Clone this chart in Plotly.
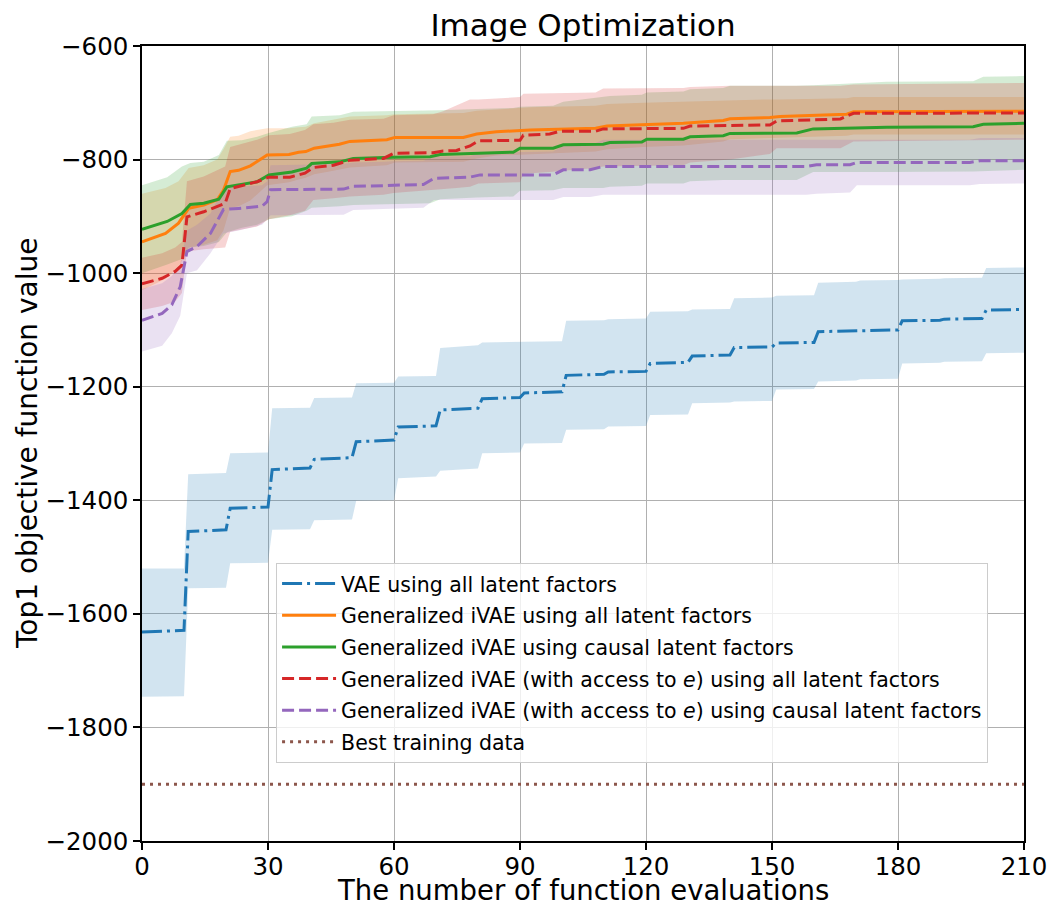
import plotly.graph_objects as go

# ---------------- data ----------------
# VAE using all latent factors (step-wise best-so-far curve)
vae_x = [0, 10, 11, 20, 21, 30, 31, 40, 41, 50, 51, 60, 61, 70, 71, 80, 81, 90, 91, 100, 101,
         110, 111, 120, 121, 130, 131, 140, 141, 150, 151, 160, 161, 170, 171, 180, 181, 190, 191, 200, 201, 210]
vae_mean = [-1632, -1629, -1455, -1452, -1414, -1412, -1346, -1343, -1328, -1325, -1297, -1294, -1271, -1269,
            -1241, -1238, -1221, -1219, -1211, -1209, -1180, -1178, -1174, -1173, -1159, -1157, -1146, -1144,
            -1131, -1130, -1123, -1122, -1103, -1102, -1101, -1100, -1084, -1083, -1081, -1080, -1065, -1064]
vae_hi = [-1520, -1520, -1354, -1352, -1317, -1316, -1238, -1237, -1220, -1219, -1194, -1193, -1182, -1181,
          -1132, -1127, -1122, -1122, -1121, -1120, -1084, -1083, -1081, -1080, -1068, -1067, -1064, -1063,
          -1044, -1043, -1040, -1039, -1017, -1015, -1013, -1012, -1011, -1010, -1009, -1008, -991, -990]
vae_lo = [-1746, -1745, -1555, -1554, -1511, -1510, -1452, -1451, -1435, -1434, -1401, -1400, -1361, -1358,
          -1348, -1344, -1317, -1316, -1300, -1299, -1276, -1275, -1270, -1269, -1250, -1249, -1229, -1228,
          -1226, -1225, -1205, -1204, -1191, -1189, -1187, -1186, -1159, -1158, -1156, -1155, -1141, -1140]

# Generalized iVAE using all latent factors
giv_all_x = [0, 5.6, 8.7, 11.1, 14.7, 17.9, 19.4, 21, 23, 25.8, 29.8, 35, 37.3, 39, 41, 44, 47, 49.5, 58.3,
             60.2, 76.5, 79.7, 84.4, 92.4, 108, 110.7, 119.4, 128.9, 138.4, 140, 149.5, 151.9, 167.8, 169.4, 210]
giv_all_mean = [-945, -930, -912, -886, -880, -871, -854, -821, -819, -811, -792, -791, -787, -786, -780, -777,
                -773, -768, -765, -761, -761, -755, -751, -748, -745, -741, -738, -736, -731, -728, -726, -724,
                -720, -716, -715]
giv_all_hi = [-860, -850, -838, -815, -810, -800, -782, -760, -758, -750, -745, -745, -743, -742, -736, -732,
              -728, -724, -722, -720, -718, -714, -712, -708, -705, -702, -700, -698, -696, -695, -694, -694,
              -692, -690, -690]
giv_all_lo = [-1030, -1010, -990, -955, -950, -942, -925, -885, -882, -872, -845, -840, -835, -832, -826, -822,
              -818, -814, -810, -805, -804, -798, -793, -790, -786, -782, -778, -775, -768, -764, -762, -761,
              -758, -756, -756]

# Generalized iVAE using causal latent factors
giv_cau_x = [0, 6, 9.5, 11.5, 14.7, 18.3, 20.2, 23.8, 27.4, 30.2, 35.7, 39.2, 40.4, 47.1, 50.3, 59.8, 68.6,
             71, 79.7, 88.4, 90, 97.9, 100.3, 109.8, 111.4, 119, 120.2, 128.9, 130.5, 138.4, 140, 155.9, 159.8,
             177.3, 197.9, 200.3, 210]
giv_cau_mean = [-923, -909, -895, -879, -877, -870, -848, -843, -839, -827, -822, -815, -807, -804, -798, -796,
                -795, -791, -789, -787, -780, -780, -774, -773, -770, -769, -764, -764, -760, -758, -754, -753,
                -746, -743, -742, -738, -736]
giv_cau_hi = [-845, -831, -812, -806, -804, -792, -767, -766, -760, -753, -742, -738, -724, -722, -716, -715,
              -714, -713, -711, -709, -707, -705, -698, -690, -688, -686, -682, -680, -676, -674, -670, -670,
              -669, -663, -662, -654, -653]
giv_cau_lo = [-1000, -985, -975, -955, -952, -945, -928, -920, -915, -905, -900, -890, -885, -882, -880, -878,
              -877, -870, -867, -865, -855, -854, -850, -850, -848, -846, -842, -842, -838, -836, -836, -836,
              -822, -822, -821, -820, -818]

# Generalized iVAE (with access to e) using all latent factors
gie_all_x = [0, 4.8, 7.9, 9.5, 10.7, 14.7, 19.8, 21, 27.4, 30.2, 35.2, 38.8, 40.8, 45.6, 49.5, 57.5, 59.9,
             69.3, 71.7, 74.9, 78.1, 80.1, 90, 90.8, 97.1, 99.5, 108, 109.8, 128.9, 130.5, 140, 149.5, 151.1,
             166.3, 169.4, 210]
gie_all_mean = [-1019, -1009, -997, -986, -901, -892, -877, -851, -839, -831, -831, -824, -814, -810, -801, -798,
                -789, -788, -785, -784, -776, -767, -766, -757, -755, -750, -750, -746, -745, -741, -740, -739,
                -732, -728.5, -718.5, -718]
gie_all_hi = [-973, -965, -955, -945, -838, -830, -812, -778, -765, -757, -755, -748, -738, -735, -730, -728,
              -722, -720, -715, -704, -694, -694, -690, -684, -683, -683, -682, -675, -674, -672, -670, -670,
              -670, -670, -668, -665]
gie_all_lo = [-1065, -1058, -1050, -1035, -962, -958, -955, -927, -918, -905, -898, -890, -871, -868, -865, -862,
              -859, -853, -852, -850, -848, -842, -840, -825, -822, -820, -815, -812, -810, -805, -800, -790,
              -780, -780, -768, -765]

# Generalized iVAE (with access to e) using causal latent factors
gie_cau_x = [0, 4.8, 7.1, 9.1, 10.7, 13.1, 16.3, 19.4, 23, 28.6, 29.8, 30.6, 48, 50.3, 57.5, 59.9, 67, 69.5,
             78, 80.5, 97.9, 100.3, 106.7, 109.8, 158.2, 160.6, 168.6, 170.2, 197.1, 199.5, 210]
gie_cau_mean = [-1083, -1071, -1056, -1024, -962, -953, -930, -888, -886, -882, -874, -853, -852, -847, -846,
                -845, -844, -833, -831, -827, -827, -818, -818, -812, -812, -809, -809, -805, -805, -802, -802]
gie_cau_hi = [-1028, -1018, -1005, -985, -925, -915, -895, -850, -848, -845, -838, -810, -808, -805, -804, -803,
              -802, -795, -794, -788, -786, -775, -775, -765, -765, -765, -765, -765, -765, -762, -762]
gie_cau_lo = [-1138, -1128, -1106, -1075, -1000, -995, -965, -930, -925, -915, -905, -898, -897, -889, -887,
              -886, -885, -871, -870, -871, -871, -866, -866, -862, -862, -860, -858, -845, -845, -843, -842]

# Best objective value found in the training set
best_x = [0, 210]
best_val = [-1900, -1900]

x_ticks = [0, 30, 60, 90, 120, 150, 180, 210]
y_ticks = [-2000, -1800, -1600, -1400, -1200, -1000, -800, -600]

# ---------------- styling ----------------
series = [
    ("VAE using all latent factors", vae_x, vae_mean, vae_lo, vae_hi, "31,119,180", "20px,5px,3px,5px"),
    ("Generalized iVAE using all latent factors", giv_all_x, giv_all_mean, giv_all_lo, giv_all_hi,
     "255,127,14", "solid"),
    ("Generalized iVAE using causal latent factors", giv_cau_x, giv_cau_mean, giv_cau_lo, giv_cau_hi,
     "44,160,44", "solid"),
    ("Generalized iVAE (with access to <i>e</i>) using all latent factors", gie_all_x, gie_all_mean,
     gie_all_lo, gie_all_hi, "214,39,40", "12px,5px"),
    ("Generalized iVAE (with access to <i>e</i>) using causal latent factors", gie_cau_x, gie_cau_mean,
     gie_cau_lo, gie_cau_hi, "148,103,189", "12px,5px"),
]

FONT = "DejaVu Sans"
fig = go.Figure()

# shaded spread bands
for name, xs, m, lo, hi, rgb, dash in series:
    fig.add_trace(go.Scatter(
        x=list(xs) + list(xs)[::-1],
        y=list(hi) + list(lo)[::-1],
        fill="toself", fillcolor=f"rgba({rgb},0.2)",
        line=dict(width=0), mode="lines",
        hoverinfo="skip", showlegend=False,
    ))

# mean curves
for i, (name, xs, m, lo, hi, rgb, dash) in enumerate(series):
    fig.add_trace(go.Scatter(
        x=xs, y=m, mode="lines", name=name, legendgroup=f"g{i}",
        line=dict(color=f"rgb({rgb})", width=3, dash=dash),
    ))

fig.add_trace(go.Scatter(
    x=best_x, y=best_val, mode="lines", name="Best training data", legendgroup="g5",
    line=dict(color="#8c564b", width=3, dash="3px,5px"),
))

axis_common = dict(
    showgrid=True, gridcolor="#b0b0b0", gridwidth=1.3,
    showline=True, linecolor="black", linewidth=1.5, mirror=True,
    ticks="outside", ticklen=7, tickwidth=1.5, tickcolor="black",
    tickfont=dict(family=FONT, size=24.5, color="black"),
    zeroline=False, automargin=False,
)

fig.update_layout(
    width=1051, height=908,
    margin=dict(l=142, r=27, t=46, b=67),
    paper_bgcolor="white", plot_bgcolor="white",
    font=dict(family=FONT, color="black"),
    title=dict(text="Image Optimization", x=0.5, xref="paper", xanchor="center",
               y=1, yref="paper", yanchor="bottom", pad=dict(b=10),
               font=dict(family=FONT, size=31, color="black")),
    xaxis=dict(range=[0, 210], tickvals=x_ticks, ticklabelstandoff=-4, **axis_common),
    yaxis=dict(range=[-2000, -600], tickvals=y_ticks, **axis_common),
    legend=dict(x=0.152, y=0.350, xanchor="left", yanchor="top",
                bgcolor="rgba(255,255,255,0.8)", bordercolor="#cccccc", borderwidth=1,
                font=dict(family=FONT, size=20.5, color="black"),
                tracegroupgap=2, itemwidth=54),
    annotations=[
        dict(text="The number of function evaluations", xref="paper", yref="paper",
             x=0.5, y=0, xanchor="center", yanchor="bottom", yshift=-67, showarrow=False,
             font=dict(family=FONT, size=27.5, color="black")),
        dict(text="Top1 objective function value", xref="paper", yref="paper",
             x=0, y=0.5, xanchor="right", yanchor="middle", xshift=-96, textangle=-90,
             showarrow=False, font=dict(family=FONT, size=28, color="black")),
    ],
)

fig.write_html("out.html")
